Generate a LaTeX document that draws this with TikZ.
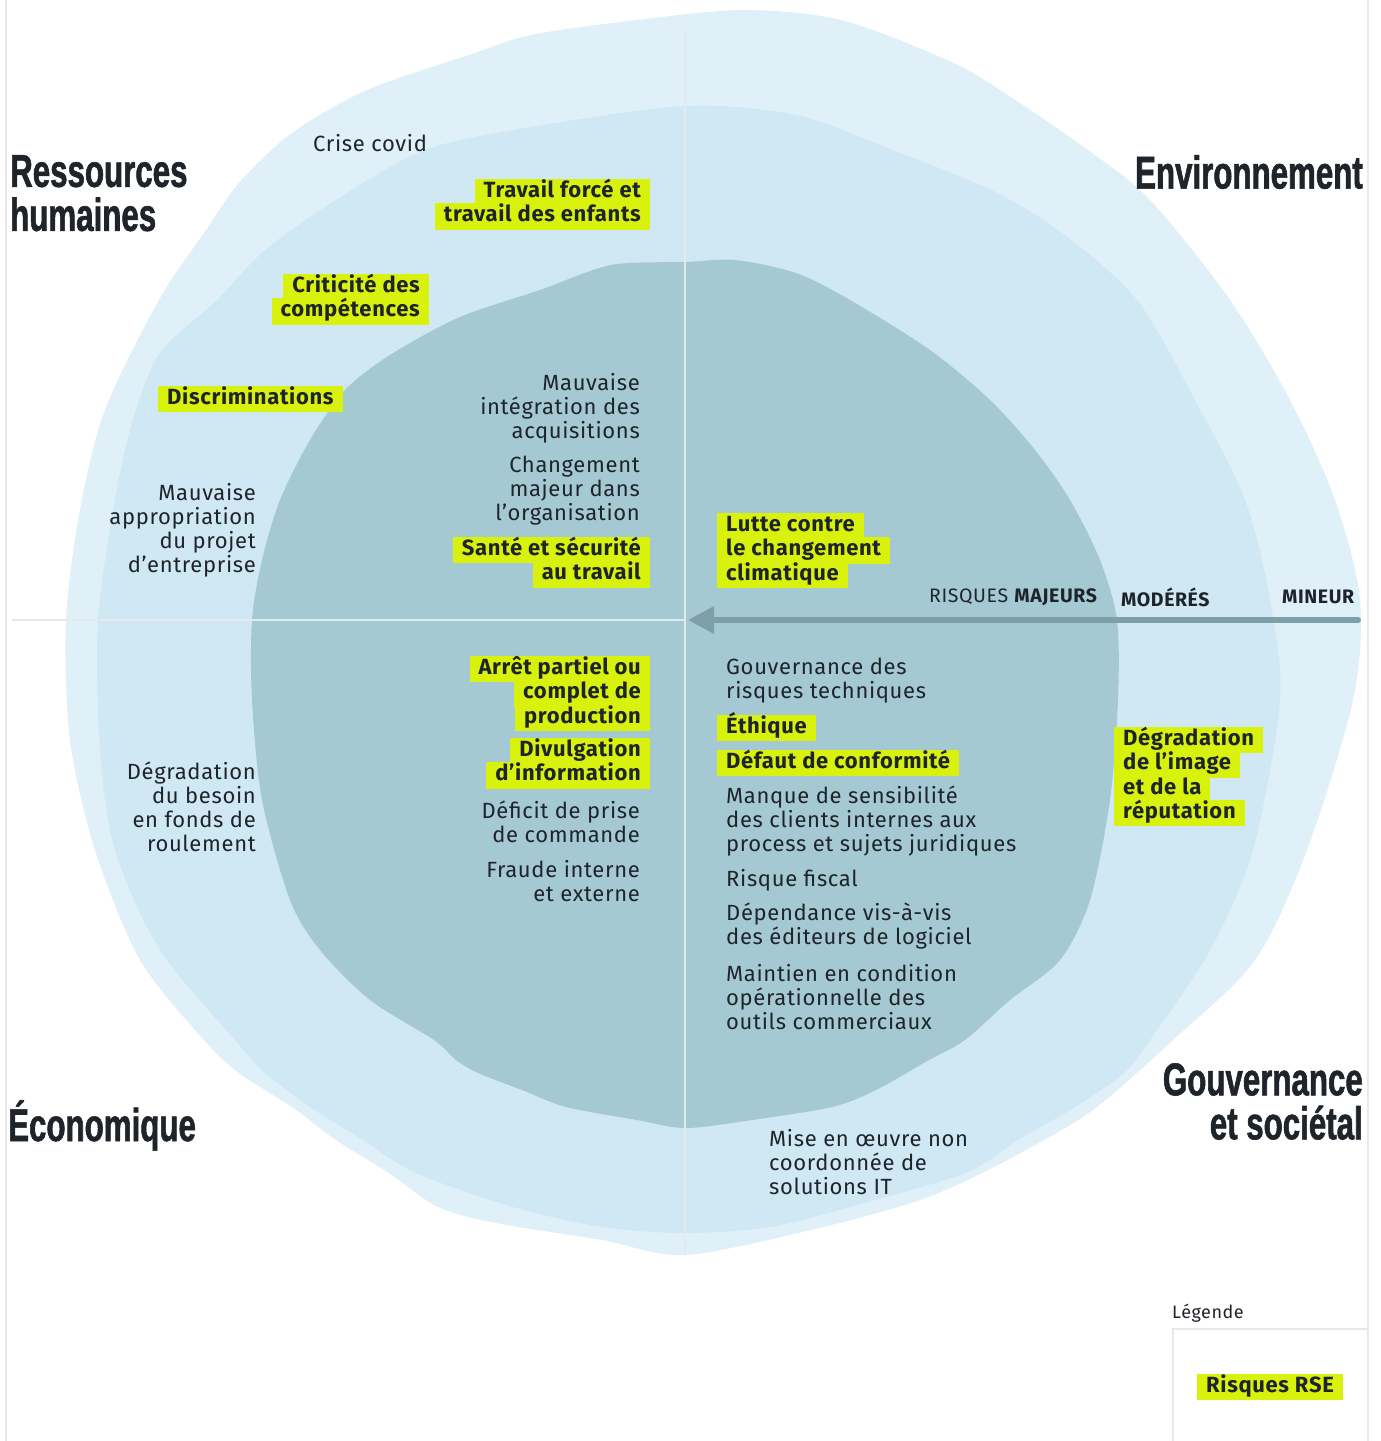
\documentclass[tikz,border=0pt]{standalone}
\usepackage{fontspec}
\setmainfont{Fira Sans}[LetterSpace=3]
\newfontfamily\titlefont{Liberation Sans}[FakeStretch=0.68, BoldFeatures={FakeBold=1.2}]
\usetikzlibrary{arrows.meta,positioning}
\definecolor{outerblue}{RGB}{223,240,248}
\definecolor{midblue}{RGB}{208,232,244}
\definecolor{innerblue}{RGB}{165,201,211}
\definecolor{axisgrey}{RGB}{226,234,237}
\definecolor{arrowgrey}{RGB}{124,159,168}
\definecolor{rseyellow}{RGB}{216,242,14}
\definecolor{inkdark}{RGB}{30,36,42}
\definecolor{framegrey}{RGB}{232,232,232}
\tikzset{
    %Define standard arrow tip
    >={Triangle[length=26pt,width=26pt]},
    %Define style for risk texts
    risk/.style={
           font=\fontsize{22}{24}\selectfont,
           text=inkdark,
           inner sep=0pt},
    riskR/.style={risk, anchor=east, align=right},
    riskL/.style={risk, anchor=west, align=left},
    %Define style for highlighted lines
    rse/.style={
           fill=rseyellow,
           font=\fontsize{22}{24}\selectfont\bfseries,
           text=inkdark,
           text height=16.5pt,
           text depth=6pt,
           inner xsep=9pt,
           inner ysep=2pt},
    nextR/.style={rse, below=-2.5pt of #1.south east, anchor=north east},
    nextL/.style={rse, below=-2.5pt of #1.south west, anchor=north west},
    domainlabel/.style={
           font=\titlefont\bfseries\fontsize{46}{44}\selectfont,
           text=inkdark,
           inner sep=0pt},
    scalelabel/.style={
           font=\fontsize{19.5}{20}\selectfont,
           text=inkdark,
           inner sep=0pt,
           anchor=west},
    axisline/.style={draw=axisgrey, line width=1.6pt},
    frameline/.style={draw=framegrey, line width=1.2pt},
    % Define arrow style
    pil/.style={
           ->,
           draw=arrowgrey,
           line width=6pt,
           line cap=round}
}
\begin{document}
\begin{tikzpicture}[x=1pt,y=-1pt]
\useasboundingbox (0,0) rectangle (1381,1441);
\fill[white] (0,0) rectangle (1381,1441);
\draw[frameline] (6,0) -- (6,1441);
\draw[frameline] (1368,0) -- (1368,1441);
\draw[frameline] (1173,1441) -- (1173,1329) -- (1368,1329);
 %rings
\fill[outerblue] plot[smooth cycle, tension=0.5] coordinates {
  (743,10) (841,20) (947,60) (1000,90) (1088,150) (1150,200) (1230,300)
  (1290,400) (1335,500) (1360,600) (1353,700) (1307,850) (1255,960)
  (1173,1040) (1097,1107) (1044,1140) (982,1173) (920,1200) (823,1227)
  (686,1255) (602,1240) (496,1223) (438,1207) (389,1173) (336,1140)
  (292,1107) (239,1073) (204,1040) (140,960) (95,850) (70,740) (66,620)
  (80,510) (105,410) (159,300) (204,233) (239,183) (292,133) (367,90)
  (469,55) (531,35) (637,20)};
\fill[midblue] plot[smooth cycle, tension=0.5] coordinates {
  (686,106) (796,115) (885,147) (991,190) (1062,233) (1137,300) (1195,400)
  (1245,500) (1270,600) (1280,700) (1253,850) (1210,950) (1150,1040)
  (1124,1073) (1075,1107) (1018,1140) (965,1173) (850,1207) (770,1227)
  (686,1233) (602,1227) (513,1207) (416,1173) (363,1140) (310,1107)
  (265,1073) (235,1040) (160,950) (115,850) (100,750) (98,620) (115,500)
  (133,420) (160,353) (217,300) (265,250) (336,200) (425,150) (531,127)};
\fill[innerblue] plot[smooth cycle, tension=0.5] coordinates {
  (686,262) (735,260) (796,273) (850,300) (930,350) (990,400) (1035,450)
  (1070,500) (1100,560) (1117,620) (1118,700) (1110,800) (1090,900)
  (1060,960) (1010,1000) (965,1040) (929,1060) (876,1090) (832,1107)
  (752,1120) (686,1128) (637,1120) (566,1107) (522,1090) (478,1073)
  (456,1060) (434,1040) (370,1000) (320,950) (290,900) (262,800) (252,700)
  (252,620) (262,560) (280,500) (310,440) (345,390) (390,355) (460,317)
  (540,290) (611,265)};
 %axes
\coordinate (top) at (685,30);
\coordinate (bottom) at (685,1255);
\coordinate (left) at (12,620);
\coordinate (origin) at (685,620);
\coordinate (tip) at (688,620);
\coordinate (tail) at (1358,620);
\draw[axisline] (top) -- (bottom);
\draw[axisline] (left) -- (origin);
\draw[pil] (tail) -- (tip);
 %domains
\node[domainlabel, anchor=north west, align=left] (rh) at (10,155) {Ressources\\humaines};
\node[domainlabel, anchor=north east] (env) at (1363,155) {Environnement};
\node[domainlabel, anchor=base west] (eco) at (8,1141) {Économique};
\node[domainlabel, anchor=north east, align=right] (gouv) at (1363,1063) {Gouvernance\\et sociétal};
 %scale
\node[scalelabel] (majeurs) at (929,597) {RISQUES \textbf{MAJEURS}};
\node[scalelabel] (moderes) at (1121,597) {\textbf{MODÉRÉS}};
\node[scalelabel] (mineur) at (1282,597) {\textbf{MINEUR}};
 %risks
\node[riskL] (covid) at (313,143) {Crise covid};
\node[riskR] (appro) at (256,530) {Mauvaise\\appropriation\\du projet\\d’entreprise};
\node[riskR] (integ) at (640,408) {Mauvaise\\intégration des\\acquisitions};
\node[riskR] (chang) at (640,491) {Changement\\majeur dans\\l’organisation};
\node[riskR] (fonds) at (256,807) {Dégradation\\du besoin\\en fonds de\\roulement};
\node[riskR] (deficit) at (640,822) {Déficit de prise\\de commande};
\node[riskR] (fraude) at (640,881) {Fraude interne\\et externe};
\node[riskL] (gouvtech) at (726,681) {Gouvernance des\\risques techniques};
\node[riskL] (manque) at (726,821) {Manque de sensibilité\\des clients internes aux\\process et sujets juridiques};
\node[riskL] (fiscal) at (726,880) {Risque fiscal};
\node[riskL] (depend) at (726,926) {Dépendance vis-à-vis\\des éditeurs de logiciel};
\node[riskL] (maintien) at (726,997) {Maintien en condition\\opérationnelle des\\outils commerciaux};
\node[riskL] (mise) at (769,1162) {Mise en œuvre non\\coordonnée de\\solutions IT};
 %rse risks
\node[rse, anchor=east] (travail) at (650,192) {Travail forcé et};
\node[nextR=travail] (travail2) {travail des enfants};
\node[rse, anchor=east] (criti) at (429,287) {Criticité des};
\node[nextR=criti] (criti2) {compétences};
\node[rse, anchor=west] (discri) at (158,399) {Discriminations};
\node[rse, anchor=east] (sante) at (650,550) {Santé et sécurité};
\node[nextR=sante] (sante2) {au travail};
\node[rse, anchor=west] (lutte) at (717,526) {Lutte contre};
\node[nextL=lutte] (lutte2) {le changement};
\node[nextL=lutte2] (lutte3) {climatique};
\node[rse, anchor=east] (arret) at (650,669) {Arrêt partiel ou};
\node[nextR=arret] (arret2) {complet de};
\node[nextR=arret2] (arret3) {production};
\node[rse, anchor=east] (divul) at (650,751) {Divulgation};
\node[nextR=divul] (divul2) {d’information};
\node[rse, anchor=west] (ethique) at (717,728) {Éthique};
\node[rse, anchor=west] (defaut) at (717,763) {Défaut de conformité};
\node[rse, anchor=west] (image) at (1114,740) {Dégradation};
\node[nextL=image] (image2) {de l’image};
\node[nextL=image2] (image3) {et de la};
\node[nextL=image3] (image4) {réputation};
 %legend
\node[scalelabel, font=\fontsize{18}{20}\selectfont] (legende) at (1172,1313) {Légende};
\node[rse] (legrse) at (1270,1387) {Risques RSE};
\end{tikzpicture}
\end{document}
